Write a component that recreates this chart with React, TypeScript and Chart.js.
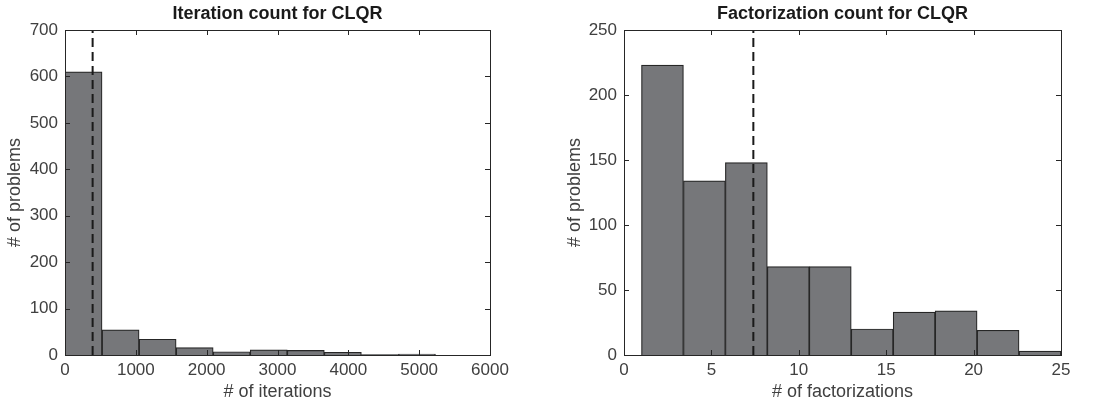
import React, { useEffect, useRef } from "react";
import { Chart, registerables } from "chart.js";

Chart.register(...registerables);

// Left histogram: iteration counts
const iterBinStart = 0;
const iterBinWidth = 523;
const iterCounts = [610, 54, 34, 16, 7, 11, 10, 6, 1, 2];
const iterMean = 390;
const iterXTicks = [0, 1000, 2000, 3000, 4000, 5000, 6000];
const iterYTicks = [0, 100, 200, 300, 400, 500, 600, 700];

// Right histogram: factorization counts
const factBinStart = 1;
const factBinWidth = 2.4;
const factCounts = [223, 134, 148, 68, 68, 20, 33, 34, 19, 3];
const factMean = 7.4;
const factXTicks = [0, 5, 10, 15, 20, 25];
const factYTicks = [0, 50, 100, 150, 200, 250];

const FONT = "'Liberation Sans', Arial, Helvetica, sans-serif";
const TXT = "#404040";

type Cfg = {
  title: string;
  xLabel: string;
  yLabel: string;
  binStart: number;
  binWidth: number;
  counts: number[];
  mean: number;
  xTicks: number[];
  yTicks: number[];
  yWidth: number;
  yTitlePad: number;
  padRight: number;
};

const frame = {
  id: "frame",
  afterDraw(chart: any, _a: any, opts: any) {
    const { ctx, chartArea: a, scales } = chart;
    ctx.save();
    ctx.strokeStyle = "#262626";
    ctx.lineWidth = 1;
    const L = 5;
    ctx.beginPath();
    for (const v of opts.xTicks) {
      const x = Math.round(scales.x.getPixelForValue(v)) + 0.5;
      ctx.moveTo(x, a.bottom);
      ctx.lineTo(x, a.bottom - L);
      ctx.moveTo(x, a.top);
      ctx.lineTo(x, a.top + L);
    }
    for (const v of opts.yTicks) {
      const y = Math.round(scales.y.getPixelForValue(v)) + 0.5;
      ctx.moveTo(a.left, y);
      ctx.lineTo(a.left + L, y);
      ctx.moveTo(a.right, y);
      ctx.lineTo(a.right - L, y);
    }
    ctx.stroke();
    ctx.strokeRect(Math.round(a.left) + 0.5, Math.round(a.top) + 0.5, Math.round(a.right - a.left), Math.round(a.bottom - a.top));
    ctx.fillStyle = "#1a1a1a";
    ctx.font = `bold 18px ${FONT}`;
    ctx.textAlign = "center";
    ctx.textBaseline = "middle";
    ctx.fillText(opts.title, (a.left + a.right) / 2, 14);
    ctx.restore();
  },
};

function Hist({ cfg, left, width }: { cfg: Cfg; left: number; width: number }) {
  const ref = useRef<HTMLCanvasElement>(null);
  useEffect(() => {
    const bars = cfg.counts.map((c, i) => ({ x: cfg.binStart + cfg.binWidth * (i + 0.5), y: c }));
    const xMax = cfg.xTicks[cfg.xTicks.length - 1];
    const yMax = cfg.yTicks[cfg.yTicks.length - 1];
    const chart = new Chart(ref.current!, {
      type: "bar",
      data: {
        datasets: [
          {
            type: "bar",
            data: bars as any,
            backgroundColor: "#76777a",
            borderColor: "#262626",
            borderWidth: 1.2,
            barPercentage: 1,
            categoryPercentage: 1,
            order: 2,
          } as any,
          {
            type: "line",
            data: [
              { x: cfg.mean, y: 0 },
              { x: cfg.mean, y: yMax },
            ],
            borderColor: "#1a1a1a",
            borderWidth: 2,
            borderDash: [9, 5],
            pointRadius: 0,
            order: 1,
          } as any,
        ],
      },
      options: {
        animation: false,
        responsive: false,
        events: [],
        layout: { padding: { top: 30, right: cfg.padRight, left: 0, bottom: 0 } },
        plugins: {
          legend: { display: false },
          tooltip: { enabled: false },
          frame: { title: cfg.title, xTicks: cfg.xTicks, yTicks: cfg.yTicks },
        } as any,
        scales: {
          x: {
            type: "linear",
            min: 0,
            max: xMax,
            offset: false,
            afterBuildTicks: (s: any) => {
              s.ticks = cfg.xTicks.map((v) => ({ value: v }));
            },
            afterFit: (s: any) => {
              s.height = 49;
            },
            grid: { display: false, drawTicks: false },
            border: { display: false },
            ticks: {
              color: TXT,
              font: { family: FONT, size: 17 },
              padding: 5,
              maxRotation: 0,
              autoSkip: false,
              callback: (v: any) => String(v),
            },
            title: { display: true, text: cfg.xLabel, color: TXT, font: { family: FONT, size: 18 }, padding: { top: 0, bottom: 1 } },
          },
          y: {
            type: "linear",
            min: 0,
            max: yMax,
            afterBuildTicks: (s: any) => {
              s.ticks = cfg.yTicks.map((v) => ({ value: v }));
            },
            afterFit: (s: any) => {
              s.width = cfg.yWidth;
            },
            grid: { display: false, drawTicks: false },
            border: { display: false },
            ticks: {
              color: TXT,
              font: { family: FONT, size: 17 },
              padding: 7,
              autoSkip: false,
              callback: (v: any) => String(v),
            },
            title: { display: true, text: cfg.yLabel, color: TXT, font: { family: FONT, size: 18 }, padding: { top: cfg.yTitlePad, bottom: 0 } },
          },
        },
      },
      plugins: [frame],
    } as any);
    return () => chart.destroy();
  }, []);
  return (
    <canvas
      ref={ref}
      width={width}
      height={404}
      style={{ position: "absolute", left, top: 0, width, height: 404 }}
    />
  );
}

const leftCfg: Cfg = {
  title: "Iteration count for CLQR",
  xLabel: "# of iterations",
  yLabel: "# of problems",
  binStart: iterBinStart,
  binWidth: iterBinWidth,
  counts: iterCounts,
  mean: iterMean,
  xTicks: iterXTicks,
  yTicks: iterYTicks,
  yWidth: 65,
  yTitlePad: 4,
  padRight: 60,
};

const rightCfg: Cfg = {
  title: "Factorization count for CLQR",
  xLabel: "# of factorizations",
  yLabel: "# of problems",
  binStart: factBinStart,
  binWidth: factBinWidth,
  counts: factCounts,
  mean: factMean,
  xTicks: factXTicks,
  yTicks: factYTicks,
  yWidth: 74,
  yTitlePad: 14,
  padRight: 38,
};

export default function App() {
  return (
    <div style={{ position: "absolute", left: 0, top: 0, width: 1099, height: 404, background: "#fff", overflow: "hidden" }}>
      <Hist cfg={leftCfg} left={0} width={550} />
      <Hist cfg={rightCfg} left={550} width={549} />
    </div>
  );
}
